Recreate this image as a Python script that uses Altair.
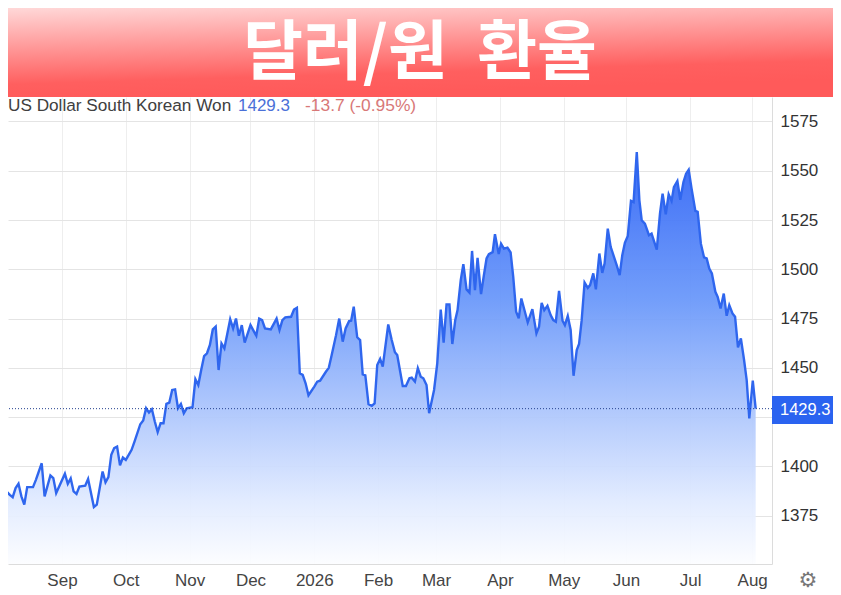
import altair as alt
import pandas as pd

sessions = [0,1,2,3,4,5,6,7,8,10,11,13,14,16,17,18,21,22,23,24,25,26,28,29,31,32,34,35,36,37,38,39,40,41,42,43,44,45,47,48,49,50,51,52,53,54,55,56,57,58,59,60,61,62,63,65,
            66,67,68,69,70,71,72,73,74,75,76,78,79,80,81,82,83,85,87,88,89,90,92,94,95,96,97,99,100,101,102,103,104,105,107,108,109,111,112,113,114.5,115.6,116.8,117.8,119,119.7,120.6,121.8,122.8,123.7,124.6,125.7,126.8,127.8,128.7,129.7,130.6,132.5,133.7,134.8,135.6,137.5,138.6,139.8,140.6,141.7,142.7,143.7,144.6,145.7,146.6,
            148.3,149.4,150.6,151.6,152.6,153.6,154.6,155.6,156.4,157.5,158.4,159.5,160.5,161.4,162.4,163.3,164.5,165.4,166.4,167.2,168.5,169.3,170.6,171.4,172.4,173.6,174.7,175.6,176.6,177.5,178.4,180.6,182.2,183.6,184.5,185.4,186.3,187.4,188.5,189.4,190.3,191.4,192.6,193.4,194.4,195.4,196.4,197.5,198.3,199.2,200.2,201.3,
            202.1,203.2,204.1,205.3,206.3,207.1,208.2,209.2,211.3,212.3,213.2,214.1,215.1,216.2,217.1,218.2,219.1,219.9,221,222.4,223.3,225.1,226.2,227.1,228.2,229.2,230.2,231,232.2,233.2,234.3,235.2,236.1,237.1,238.4,239.2,240.3,241.4,242.3,243.2,244.1,245.3,246.1,247.1,248.2,249.2,250.1,251.2,252.1,253.1,254.1,255.2,256.1,257,258.2,259.2]
rates = [1386.5,1387.1,1385.6,1384.4,1389,1391.2,1384.8,1380.6,1389.5,1389.5,1393.2,1401.6,1384.8,1395.4,1394.1,1386.5,1396.3,1391.2,1393.9,1387.3,1386,1389.8,1390.2,1393.6,1379.4,1380.6,1397.4,1391.9,1394.6,1405.9,1409.3,1410.1,1400.5,1404.5,1403.3,1405.9,1408.4,1412.6,1421.4,1423.3,1429.5,1427.3,1429,1422.8,1417.4,1421.9,1421.9,1431.7,1432.4,1438.8,1439.1,1429.5,1431.7,1427,1429.5,1430,
         1444.2,1441.3,1448.9,1456,1457.4,1461.6,1469.5,1470.9,1448.9,1462.4,1459.9,1474.6,1470,1475,1466.3,1471.7,1462.8,1471.7,1466.3,1475,1474.2,1470,1469.5,1475,1469.2,1474.2,1475.6,1475.9,1479.6,1480.5,1447.2,1446.4,1442.2,1436.1,1440.5,1443,1443.5,1448,1450,1456.5,1466.6,1475,1463.3,1470,1473.7,1473.9,1481,1465.5,1464.1,1446.7,1446.2,1431.5,1430.7,1432,1451.4,1454.5,1450.6,1472,1464.1,1457.9,1456.5,1440.8,1440.8,1444.7,1445,1443,1449.8,1445.5,1444.7,1441.3,1427,
         1438.8,1452.3,1479.6,1462.8,1482.2,1482.2,1462.1,1474.2,1479.3,1494.5,1502.6,1489.8,1488.2,1509.3,1489.4,1505.8,1487.4,1496.2,1505.5,1507.7,1508.7,1517.8,1507.7,1513,1510.5,1511,1508.5,1496.2,1478.5,1475.1,1485.2,1473,1479.8,1467.5,1470.9,1483,1479.3,1481.5,1476.8,1474.2,1473.4,1489.1,1473.9,1471.7,1476.3,1469.2,1446,1459,1462.1,1474.2,1493.3,1490.6,
         1492,1497.9,1489.8,1508,1498.2,1502.9,1520.6,1511.4,1502,1497,1507.1,1513.4,1516.9,1534.7,1534.1,1559.5,1535,1524.9,1523.2,1517.3,1518.1,1510,1528.2,1538.4,1527.9,1538,1534.7,1541.7,1544.8,1535.3,1544.3,1548.5,1550.5,1540.9,1529.6,1529.1,1513,1506,1505.5,1500.4,1497.9,1488.6,1486,1480.1,1487.7,1476.4,1481.8,1477.6,1475.9,1460.4,1464.9,1454,1443.8,1424.4,1443.5,1429.3]

month_ticks = [20,42,64,85,107,129,149,171,193,214.5,236.6,258]
month_labels = ["Sep","Oct","Nov","Dec","2026","Feb","Mar","Apr","May","Jun","Jul","Aug"]
rate_ticks = [1375,1400,1425,1450,1475,1500,1525,1550,1575]
last_price = 1429.3

df = pd.DataFrame({"session": sessions, "rate": rates})
one = alt.Data(values=[{}])

FONT = "Liberation Sans"
ticks_js = ",".join(str(v) for v in month_ticks)
labels_js = ",".join(f"'{v}'" for v in month_labels)

x_scale = alt.Scale(domain=[1.38, 264.83], nice=False, zero=False)
y_scale = alt.Scale(domain=[1350.5, 1587.4], nice=False, zero=False)

x_enc = alt.X("session:Q", scale=x_scale, axis=alt.Axis(
    title=None, values=month_ticks, labelExpr=f"[{labels_js}][indexof([{ticks_js}],datum.value)]",
    grid=True, gridColor="#eeeeee", gridWidth=1, domainColor="#dcdcdc", ticks=False,
    labelFont=FONT, labelFontSize=17, labelColor="#444444", labelPadding=8, labelFlush=False))
y_enc = alt.Y("rate:Q", scale=y_scale, stack=None, axis=alt.Axis(
    title=None, orient="right", values=rate_ticks, labelExpr="datum.value==1425?'':datum.label",
    grid=True, gridColor="#e4e4e4", gridWidth=1, domainColor="#dcdcdc", ticks=False,
    labelFont=FONT, labelFontSize=17, labelColor="#333333", labelPadding=8, format="d"))

area = alt.Chart(df).mark_area(
    clip=True, opacity=0.94,
    color=alt.LinearGradient(gradient="linear", x1=0, x2=0, y1=0, y2=1, stops=[
        alt.GradientStop(offset=0, color="#2f63f5"),
        alt.GradientStop(offset=0.36, color="#6a98fa"),
        alt.GradientStop(offset=0.6, color="#a6c1fc"),
        alt.GradientStop(offset=0.845, color="#e0eaff"),
        alt.GradientStop(offset=1, color="#fcfdff"),
    ]),
).encode(x=x_enc, y=y_enc, y2=alt.datum(1350.5))

line = alt.Chart(df).mark_line(clip=True, color="#2f66ee", strokeWidth=2.4).encode(
    x=alt.X("session:Q"), y=alt.Y("rate:Q"))

price_rule = alt.Chart(one).mark_rule(color="#24408f", strokeWidth=1, strokeDash=[1, 2]).encode(
    y=alt.datum(last_price))

banner = alt.Chart(one).mark_rect(
    color=alt.LinearGradient(gradient="linear", x1=0, x2=0.27, y1=0, y2=1, stops=[
        alt.GradientStop(offset=0, color="#ffd8d8"),
        alt.GradientStop(offset=0.8, color="#ff5f5f"),
        alt.GradientStop(offset=1, color="#ff5a5a"),
    ])
).encode(x=alt.value(0), x2=alt.value(825), y=alt.value(-89), y2=alt.value(0))

title = alt.Chart(one).mark_text(
    text="달러/원\u00a0\u00a0환율", font="Noto Sans CJK KR", fontWeight="bold", fontSize=65,
    color="white", align="center", baseline="middle"
).encode(x=alt.value(412), y=alt.value(-43))

def label(text, px, color, py=9, size=17):
    return alt.Chart(one).mark_text(text=text, font=FONT, fontSize=size, color=color,
                                    align="left", baseline="middle").encode(
        x=alt.value(px), y=alt.value(py))

name_txt = label("US Dollar South Korean Won", 0, "#404040", size=17.2)
price_txt = label(str(last_price), 230, "#4a70d8")
change_txt = label("-13.7 (-0.95%)", 297, "#d87878", size=17.4)

tag = alt.Chart(one).mark_rect(color="#2a63f0").encode(
    x=alt.value(764), x2=alt.value(825), y=alt.value(299), y2=alt.value(327))
tag_txt = label(str(last_price), 772, "white", py=313, size=16.5)
gear = alt.Chart(one).mark_text(text="⚙", font="DejaVu Sans", fontSize=21, color="#777777",
                                align="center", baseline="middle").encode(
    x=alt.value(800), y=alt.value(484))

chart = alt.layer(area, line, price_rule, banner, title, name_txt, price_txt, change_txt,
                  tag, tag_txt, gear).properties(
    width=764, height=467,
    padding={"left": 0, "top": 89, "right": 61, "bottom": 31},
    autosize=alt.AutoSizeParams(type="none"),
    background="white",
).configure_view(strokeWidth=0)

chart.save("out.html", embed_options={"renderer": "svg", "actions": False})
